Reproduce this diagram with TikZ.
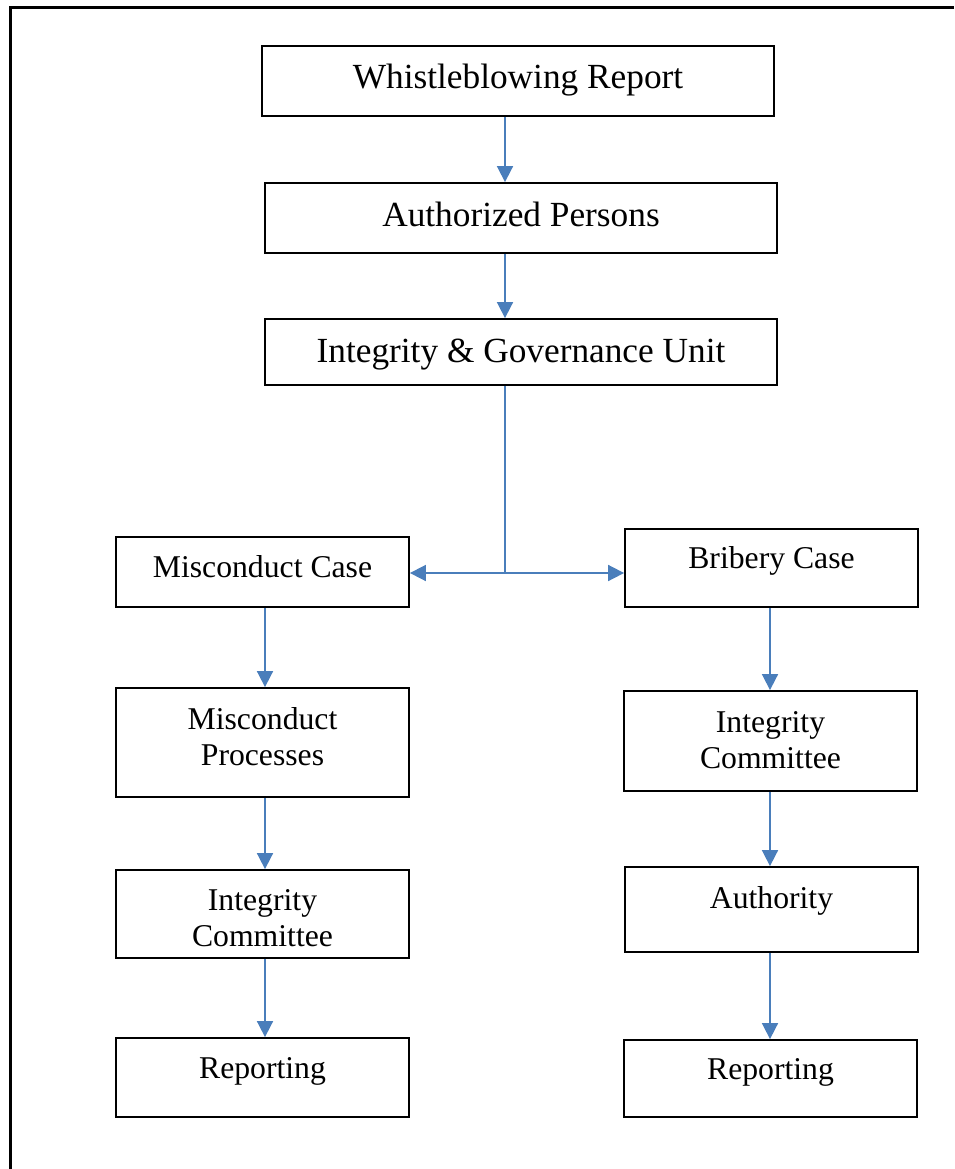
\documentclass[tikz,border=0pt]{standalone}
\usepackage{fontspec}
\setmainfont{Liberation Serif}
\usetikzlibrary{arrows.meta}
\definecolor{arrblue}{RGB}{74,126,187}
\newcommand\bigfont{\fontsize{35.3}{40}\selectfont}
\newcommand\smallfont{\fontsize{31.7}{36}\selectfont}
\newcommand\TL[2]{\vtop{\hbox to 0pt{\hss#1\hss}\hbox to 0pt{\hss#2\hss}}}
\tikzset{
  box/.style={draw=black, line width=1.8pt, rectangle, inner sep=0pt, fill=white},
  topbox/.style={box, font=\bigfont, minimum width=512pt},
  lowbox/.style={box, font=\smallfont, minimum width=293pt},
  tip/.tip={Triangle[length=16pt,width=16pt]},
  arr/.style={draw=arrblue, line width=1.7pt, -tip},
  bothways/.style={draw=arrblue, line width=1.7pt, tip-tip},
  plain/.style={draw=arrblue, line width=1.7pt},
  frame/.style={draw=black, line width=3pt}
}
\begin{document}
\begin{tikzpicture}[x=1pt,y=-1pt]
\useasboundingbox (0,0) rectangle (954,1169);
\draw[frame] (954,8) -- (10,8) -- (10,1169);

\node[topbox, minimum height=70pt, text height=25pt, text depth=9pt] (W) at (518,81) {Whistleblowing Report};
\node[topbox, minimum height=70pt, text height=25pt, text depth=9pt] (A) at (521,218) {Authorized Persons};
\node[topbox, minimum height=66pt, text height=27pt, text depth=7pt] (I) at (521,352) {Integrity \& Governance Unit};

\node[lowbox, minimum height=70pt, text height=22pt, text depth=12pt] (MC) at (262.5,572) {Misconduct Case};
\node[lowbox, minimum height=78pt, text height=17pt, text depth=17pt] (BC) at (771.5,568) {Bribery Case};
\node[lowbox, minimum height=109pt, text height=22pt, text depth=49pt] (MP) at (262.5,742.5) {\TL{Misconduct}{Processes}};
\node[lowbox, minimum height=100pt, text height=22pt, text depth=40pt] (ICR) at (770.5,741) {\TL{Integrity}{Committee}};
\node[lowbox, minimum height=88pt, text height=22pt, text depth=30pt] (ICL) at (262.5,914) {\TL{Integrity}{Committee}};
\node[lowbox, minimum height=85pt, text height=20pt, text depth=23pt] (AU) at (771.5,909.5) {Authority};
\node[lowbox, minimum height=79pt, text height=18pt, text depth=17pt] (RL) at (262.5,1077.5) {Reporting};
\node[lowbox, minimum height=77pt, text height=18pt, text depth=17pt] (RR) at (770.5,1078.5) {Reporting};

\coordinate (spine) at (505,0);
\coordinate (lcol) at (265,0);
\coordinate (rcol) at (770,0);
\coordinate (fork) at (505,573);

\draw[arr] (W.south -| spine) -- (A.north -| spine);
\draw[arr] (A.south -| spine) -- (I.north -| spine);
\draw[plain] (I.south -| spine) -- (fork);
\draw[bothways] (fork -| MC.east) -- (fork -| BC.west);

\draw[arr] (MC.south -| lcol) -- (MP.north -| lcol);
\draw[arr] (MP.south -| lcol) -- (ICL.north -| lcol);
\draw[arr] (ICL.south -| lcol) -- (RL.north -| lcol);

\draw[arr] (BC.south -| rcol) -- (ICR.north -| rcol);
\draw[arr] (ICR.south -| rcol) -- (AU.north -| rcol);
\draw[arr] (AU.south -| rcol) -- (RR.north -| rcol);
\end{tikzpicture}
\end{document}
